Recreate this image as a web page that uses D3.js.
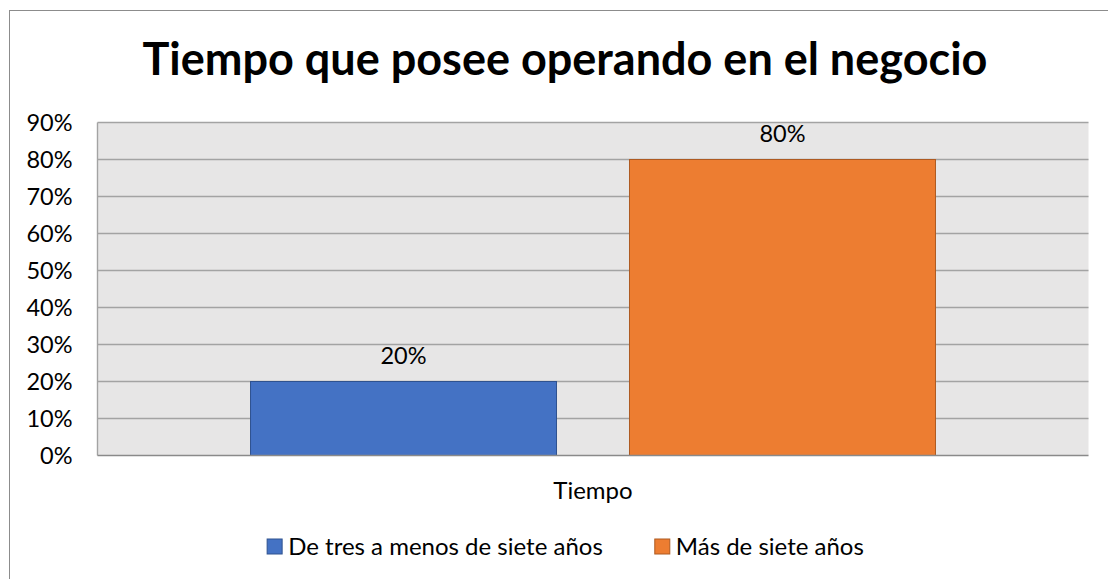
<!DOCTYPE html>
<html><head><meta charset="utf-8">
<script src="https://cdn.jsdelivr.net/npm/d3@7"></script>
<style>
html,body{margin:0;padding:0;background:#fff;}
text{font-family:Lato, "Open Sans", sans-serif;fill:#000;}
</style></head>
<body>
<svg id="chart" width="1108" height="579"></svg>
<script>
const title = "Tiempo que posee operando en el negocio";
const categories = ["Tiempo"];
const seriesNames = ["De tres a menos de siete años", "Más de siete años"];
const seriesValues = [0.20, 0.80];
const seriesColors = ["#4472c4", "#ed7d31"];
const seriesStrokes = ["#2f528f", "#ae5a21"];
const yTicks = [0, 0.1, 0.2, 0.3, 0.4, 0.5, 0.6, 0.7, 0.8, 0.9];

const svg = d3.select("#chart");
const W = 1108, H = 579;
svg.append("rect").attr("width", W).attr("height", H).attr("fill", "#fff");
// outer chart border
svg.append("rect").attr("x", 9.5).attr("y", 10.5).attr("width", 1200).attr("height", 700)
  .attr("fill", "none").attr("stroke", "#8c8c8c").attr("stroke-width", 1);

const plot = {left: 97.5, right: 1088.5, top: 122.5, bottom: 455.5};
const y = d3.scaleLinear().domain([0, 0.9]).range([plot.bottom, plot.top]);
const x0 = d3.scaleBand().domain(categories).range([plot.left, plot.right])
  .paddingInner(0).paddingOuter(0.2234);
const x1 = d3.scaleBand().domain(seriesNames).range([0, x0.bandwidth()])
  .paddingInner(0.1926).paddingOuter(0);

// plot background
svg.append("rect").attr("x", plot.left).attr("y", plot.top)
  .attr("width", plot.right - plot.left).attr("height", plot.bottom - plot.top)
  .attr("fill", "#e7e6e6");

// gridlines
svg.append("g").selectAll("line").data(yTicks.filter(d => d > 0)).join("line")
  .attr("x1", plot.left).attr("x2", plot.right)
  .attr("y1", d => y(d)).attr("y2", d => y(d))
  .attr("stroke", "#a3a3a3").attr("stroke-width", 1.4);
// left edge of plot
svg.append("line").attr("x1", plot.left).attr("x2", plot.left)
  .attr("y1", plot.top).attr("y2", plot.bottom).attr("stroke", "#a3a3a3").attr("stroke-width", 1.4);

// y axis labels
const yAxis = d3.axisLeft(y).tickValues(yTicks).tickFormat(d3.format(".0%")).tickSize(0).tickPadding(25);
const gy = svg.append("g").attr("transform", `translate(${plot.left},0)`).call(yAxis);
gy.select(".domain").remove();
gy.selectAll("text").attr("font-size", 23.5).attr("font-family", "Lato").attr("fill", "#000").attr("dy", "0.36em");

// bars
const data = seriesNames.map((s, i) => ({cat: categories[0], name: s, value: seriesValues[i], i}));
svg.append("g").selectAll("rect").data(data).join("rect")
  .attr("x", d => x0(d.cat) + x1(d.name))
  .attr("y", d => y(d.value))
  .attr("width", x1.bandwidth())
  .attr("height", d => y(0) - y(d.value))
  .attr("fill", d => seriesColors[d.i])
  .attr("stroke", d => seriesStrokes[d.i]).attr("stroke-width", 1);

// x axis line
svg.append("line").attr("x1", plot.left).attr("x2", plot.right)
  .attr("y1", plot.bottom).attr("y2", plot.bottom).attr("stroke", "#8a8a8a").attr("stroke-width", 1.5);

// data labels
svg.append("g").selectAll("text").data(data).join("text")
  .attr("x", d => x0(d.cat) + x1(d.name) + x1.bandwidth() / 2)
  .attr("y", d => y(d.value) - 18)
  .attr("text-anchor", "middle").attr("font-size", 23.5)
  .text(d => d3.format(".0%")(d.value));

// category label
svg.append("text").attr("x", x0(categories[0]) + x0.bandwidth() / 2).attr("y", 499)
  .attr("text-anchor", "middle").attr("font-size", 24).text(categories[0]);

// title
svg.append("text").attr("x", 565).attr("y", 75).attr("text-anchor", "middle")
  .attr("font-size", 45).attr("font-weight", "bold").text(title);

// legend
const leg = svg.append("g");
const items = leg.selectAll("g").data(data).join("g");
items.append("rect").attr("width", 15).attr("height", 15).attr("y", 539)
  .attr("fill", d => seriesColors[d.i]).attr("stroke", d => seriesStrokes[d.i]);
items.append("text").attr("x", 21).attr("y", 555).attr("font-size", 24).text(d => d.name);
let widths = [];
items.each(function() { widths.push(21 + this.querySelector("text").getComputedTextLength()); });
const gap = 52;
const total = d3.sum(widths) + gap * (widths.length - 1);
let cx = 565.5 - total / 2;
items.attr("transform", (d, i) => { const t = `translate(${cx},0)`; cx += widths[i] + gap; return t; });
</script>
</body></html>
